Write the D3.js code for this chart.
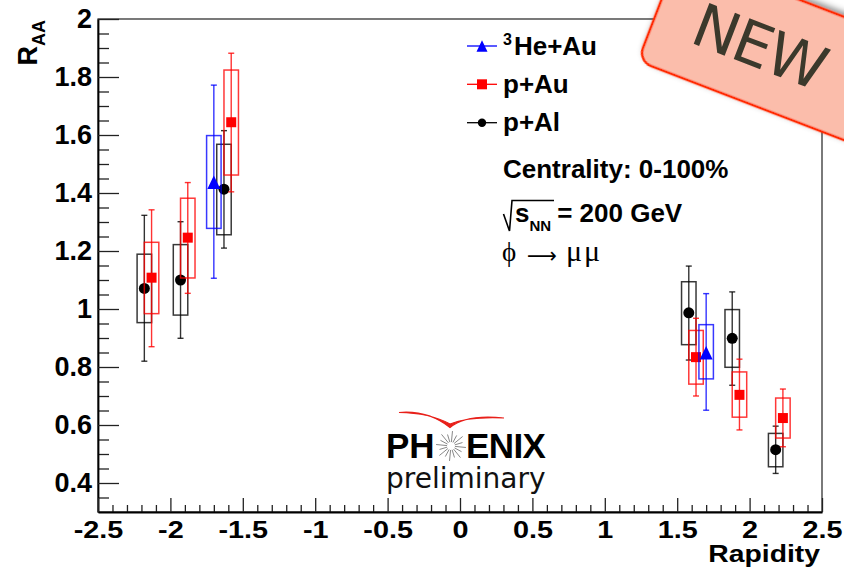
<!DOCTYPE html>
<html><head><meta charset="utf-8">
<script src="https://cdn.jsdelivr.net/npm/d3@7"></script>
<style>body{margin:0;background:#fff}svg{display:block}</style>
</head><body>
<svg id="c" width="844" height="568"></svg>
<script>
// ---- data ----
const seriesKeys = ["pAl", "pAu", "He"];
const legendOrder = ["He", "pAu", "pAl"];
const legendLabels = {He: "He+Au", pAu: "p+Au", pAl: "p+Al"};
const legendSup = {He: "3", pAu: "", pAl: ""};
const colors = {He: "#0000ff", pAu: "#ff0000", pAl: "#000000"};
const markers = {He: "triangle", pAu: "square", pAl: "circle"};

const pAlX      = [-2.18, -1.93, -1.63, 1.58, 1.88, 2.18];
const pAlY      = [1.071, 1.100, 1.413, 0.987, 0.899, 0.515];
const pAlStatLo = [0.820, 0.899, 1.210, 0.824, 0.737, 0.433];
const pAlStatHi = [1.323, 1.301, 1.615, 1.148, 1.059, 0.596];
const pAlSysLo  = [0.953, 0.979, 1.256, 0.877, 0.799, 0.456];
const pAlSysHi  = [1.189, 1.222, 1.568, 1.094, 0.998, 0.571];

const pAuX      = [-2.13, -1.88, -1.58, 1.63, 1.93, 2.23];
const pAuY      = [1.108, 1.246, 1.644, 0.834, 0.704, 0.624];
const pAuStatLo = [0.870, 1.054, 1.404, 0.700, 0.583, 0.525];
const pAuStatHi = [1.342, 1.436, 1.882, 0.968, 0.827, 0.724];
const pAuSysLo  = [0.984, 1.107, 1.462, 0.741, 0.627, 0.555];
const pAuSysHi  = [1.230, 1.382, 1.824, 0.926, 0.783, 0.693];

const HeX      = [-1.70, 1.70];
const HeY      = [1.437, 0.849];
const HeStatLo = [1.106, 0.651];
const HeStatHi = [1.772, 1.053];
const HeSysLo  = [1.278, 0.759];
const HeSysHi  = [1.598, 0.946];

const sysHalfWidth = 0.05;
const xTickValues = [-2.5, -2, -1.5, -1, -0.5, 0, 0.5, 1, 1.5, 2, 2.5];
const xTickLabels = ["-2.5", "-2", "-1.5", "-1", "-0.5", "0", "0.5", "1", "1.5", "2", "2.5"];
const yTickValues = [0.4, 0.6, 0.8, 1.0, 1.2, 1.4, 1.6, 1.8, 2.0];
const yTickLabels = ["0.4", "0.6", "0.8", "1", "1.2", "1.4", "1.6", "1.8", "2"];

const table = {
  pAl: pAlX.map((x, i) => ({x, y: pAlY[i], slo: pAlStatLo[i], shi: pAlStatHi[i], ylo: pAlSysLo[i], yhi: pAlSysHi[i]})),
  pAu: pAuX.map((x, i) => ({x, y: pAuY[i], slo: pAuStatLo[i], shi: pAuStatHi[i], ylo: pAuSysLo[i], yhi: pAuSysHi[i]})),
  He:  HeX.map((x, i) => ({x, y: HeY[i], slo: HeStatLo[i], shi: HeStatHi[i], ylo: HeSysLo[i], yhi: HeSysHi[i]}))
};

// ---- layout ----
const svg = d3.select("#c");
const L = 98, R = 822, T = 19, B = 512;
const x = d3.scaleLinear().domain([-2.5, 2.5]).range([L, R]);
const y = d3.scaleLinear().domain([0.3, 2.0]).range([B, T]);
const FONT = "'Liberation Sans', Arial, Helvetica, sans-serif";
const SERIF = "'Liberation Serif', 'Times New Roman', serif";

// frame
svg.append("rect").attr("x", L).attr("y", T).attr("width", R - L).attr("height", B - T)
  .attr("fill", "none").attr("stroke", "#222").attr("stroke-width", 1.2);

// y axis
const yMinorVals = d3.range(7, 40).map(k => k * 0.05).filter(v => !yTickValues.some(t => Math.abs(t - v) < 1e-6));
svg.append("g").attr("transform", `translate(${L},0)`)
  .call(d3.axisLeft(y).tickValues(yMinorVals).tickSizeInner(-11).tickSizeOuter(0).tickFormat(""))
  .call(g => g.select(".domain").remove())
  .call(g => g.selectAll("line").attr("stroke", "#222").attr("stroke-width", 1.3));
const yAx = svg.append("g").attr("transform", `translate(${L},0)`)
  .call(d3.axisLeft(y).tickValues(yTickValues).tickSizeInner(-21).tickSizeOuter(0).tickPadding(6)
    .tickFormat((d, i) => yTickLabels[i]));
yAx.select(".domain").attr("stroke", "#000").attr("stroke-width", 1.8);
yAx.selectAll("line").attr("stroke", "#222").attr("stroke-width", 1.3);
yAx.selectAll("text").attr("font-family", FONT).attr("font-weight", "bold").attr("font-size", 27).attr("fill", "#000");

// x axis
const xMinorVals = d3.range(-25, 26).map(k => k / 10).filter(v => !xTickValues.some(t => Math.abs(t - v) < 1e-6));
svg.append("g").attr("transform", `translate(0,${B})`)
  .call(d3.axisBottom(x).tickValues(xMinorVals).tickSizeInner(-7).tickSizeOuter(0).tickFormat(""))
  .call(g => g.select(".domain").remove())
  .call(g => g.selectAll("line").attr("stroke", "#222").attr("stroke-width", 1.3));
const xAx = svg.append("g").attr("transform", `translate(0,${B})`)
  .call(d3.axisBottom(x).tickValues(xTickValues).tickSizeInner(-14).tickSizeOuter(0).tickPadding(9)
    .tickFormat((d, i) => xTickLabels[i]));
xAx.select(".domain").attr("stroke", "#000").attr("stroke-width", 1.8);
xAx.selectAll("line").attr("stroke", "#222").attr("stroke-width", 1.3);
xAx.selectAll("text").attr("font-family", FONT).attr("font-weight", "bold").attr("font-size", 24)
  .attr("fill", "#000").attr("transform", "scale(1.2,1)");

// axis titles
svg.append("text").attr("transform", "translate(820,562) scale(1.18,1)").attr("text-anchor", "end")
  .attr("font-family", FONT).attr("font-weight", "bold").attr("font-size", 24).text("Rapidity");
const yt = svg.append("text").attr("transform", "translate(37,20) rotate(-90)").attr("text-anchor", "end")
  .attr("font-family", FONT).attr("font-weight", "bold");
yt.append("tspan").attr("font-size", 27).text("R");
yt.append("tspan").attr("font-size", 18).attr("dy", 8).text("AA");

// marker path
function markerPath(type, s) {
  if (type === "circle") return d3.symbol(d3.symbolCircle, Math.PI * s * s)();
  if (type === "square") return `M${-s},${-s}H${s}V${s}H${-s}Z`;
  return `M0,${-s * 1.05}L${s},${s * 1.05}L${-s},${s * 1.05}Z`;
}
const markerSize = {circle: 5.5, square: 5, triangle: 6.5};

// data
seriesKeys.forEach(k => {
  const c = colors[k];
  const g = svg.append("g");
  const d = table[k];
  g.selectAll("rect.sys").data(d).join("rect")
    .attr("x", p => x(p.x - sysHalfWidth)).attr("width", p => x(p.x + sysHalfWidth) - x(p.x - sysHalfWidth))
    .attr("y", p => y(p.yhi)).attr("height", p => y(p.ylo) - y(p.yhi))
    .attr("fill", "none").attr("stroke", c).attr("stroke-width", 1.5).attr("stroke-opacity", 0.78);
  g.selectAll("line.stat").data(d).join("line")
    .attr("x1", p => x(p.x)).attr("x2", p => x(p.x))
    .attr("y1", p => y(p.shi)).attr("y2", p => y(p.slo))
    .attr("stroke", c).attr("stroke-width", 1.4).attr("stroke-opacity", 0.8);
  ["shi", "slo"].forEach(f => {
    g.selectAll("line.cap" + f).data(d).join("line")
      .attr("x1", p => x(p.x) - 3).attr("x2", p => x(p.x) + 3)
      .attr("y1", p => y(p[f])).attr("y2", p => y(p[f]))
      .attr("stroke", c).attr("stroke-width", 1.4).attr("stroke-opacity", 0.8);
  });
  g.selectAll("path.m").data(d).join("path")
    .attr("transform", p => `translate(${x(p.x)},${y(p.y)})`)
    .attr("d", markerPath(markers[k], markerSize[markers[k]]))
    .attr("fill", c);
});

// legend
const legRowY = [46, 84.3, 122.7];
legendOrder.forEach((k, i) => {
  const g = svg.append("g").attr("transform", `translate(0,${legRowY[i]})`);
  g.append("line").attr("x1", 467).attr("x2", 497).attr("y1", 0).attr("y2", 0)
    .attr("stroke", colors[k]).attr("stroke-width", 1.3);
  const ms = {circle: 4.2, square: 5, triangle: 5.5}[markers[k]];
  g.append("path").attr("transform", "translate(482,0)").attr("d", markerPath(markers[k], ms)).attr("fill", colors[k]);
  const t = g.append("text").attr("x", 503).attr("y", 8.5)
    .attr("font-family", FONT).attr("font-weight", "bold").attr("font-size", 26);
  if (legendSup[k]) {
    t.append("tspan").attr("font-size", 16).attr("dy", -10).text(legendSup[k]);
    t.append("tspan").attr("dy", 10).attr("dx", 2).text(legendLabels[k]);
  } else t.text(legendLabels[k]);
});

// annotations
svg.append("text").attr("x", 503).attr("y", 178).attr("font-family", FONT).attr("font-weight", "bold")
  .attr("font-size", 26).text("Centrality: 0-100%");
svg.append("path").attr("d", "M503.5,214 L509.5,231 L512,200.5 L554,200.5").attr("fill", "none")
  .attr("stroke", "#000").attr("stroke-width", 1.6);
const st = svg.append("text").attr("x", 515).attr("y", 222).attr("font-family", FONT).attr("font-weight", "bold").attr("font-size", 26);
st.append("tspan").text("s");
st.append("tspan").attr("font-size", 15).attr("dy", 8.5).text("NN");
st.append("tspan").attr("dy", -8.5).attr("dx", 6).text("= 200 GeV");
svg.append("text").attr("x", 502).attr("y", 261).attr("font-family", SERIF).attr("font-size", 27).text("ϕ");
svg.append("text").attr("x", 527).attr("y", 263).attr("font-family", "'DejaVu Sans', sans-serif").attr("font-size", 22)
  .attr("textLength", 30).attr("lengthAdjust", "spacingAndGlyphs").text("⟶");
svg.append("text").attr("x", 566).attr("y", 261).attr("font-family", SERIF).attr("font-size", 30)
  .attr("letter-spacing", 2).text("μμ");

// PHENIX logo
const logo = svg.append("g");
logo.append("path").attr("d", "M399,412.5 Q428,410 450,427.5 Q466,414 504,418 Q468,416.5 450,424 Q430,413 399,412.5Z")
  .attr("fill", "#e8201a").attr("stroke", "#e8201a").attr("stroke-width", 1.2);
logo.append("text").attr("x", 386).attr("y", 458).attr("font-family", FONT).attr("font-weight", "bold")
  .attr("font-size", 35).text("PH");
logo.append("text").attr("x", 466).attr("y", 458).attr("font-family", FONT).attr("font-weight", "bold")
  .attr("font-size", 35).attr("letter-spacing", -0.6).text("ENIX");
const rays = d3.range(16).map(i => i * Math.PI / 8 + 0.1);
logo.selectAll("line.ray").data(rays).join("line")
  .attr("x1", a => 451 + 4 * Math.cos(a)).attr("y1", a => 446 + 4 * Math.sin(a))
  .attr("x2", (a, i) => 451 + (i % 2 ? 12 : 15) * Math.cos(a)).attr("y2", (a, i) => 446 + (i % 2 ? 12 : 15) * Math.sin(a))
  .attr("stroke", "#888").attr("stroke-width", 1);
logo.append("text").attr("x", 386).attr("y", 488).attr("font-family", "'DejaVu Sans', sans-serif")
  .attr("font-size", 28).attr("fill", "#111").text("preliminary");

// NEW badge
const defs = svg.append("defs");
const f = defs.append("filter").attr("id", "sh").attr("x", "-20%").attr("y", "-40%").attr("width", "140%").attr("height", "180%");
f.append("feDropShadow").attr("dx", 2).attr("dy", -3).attr("stdDeviation", 3).attr("flood-color", "#000").attr("flood-opacity", 0.45);
const badge = svg.append("g").attr("transform", "translate(638,61) rotate(21)");
badge.append("rect").attr("x", 0).attr("y", -115).attr("width", 300).attr("height", 115).attr("rx", 14)
  .attr("fill", "#fbbdab").attr("stroke", "#ff2a00").attr("stroke-width", 2.5).attr("filter", "url(#sh)");
badge.append("text").attr("x", 40).attr("y", -36).attr("font-family", "'DejaVu Sans', sans-serif")
  .attr("font-size", 60).attr("fill", "#3b392c").attr("letter-spacing", -2).text("NEW");
</script>
</body></html>
